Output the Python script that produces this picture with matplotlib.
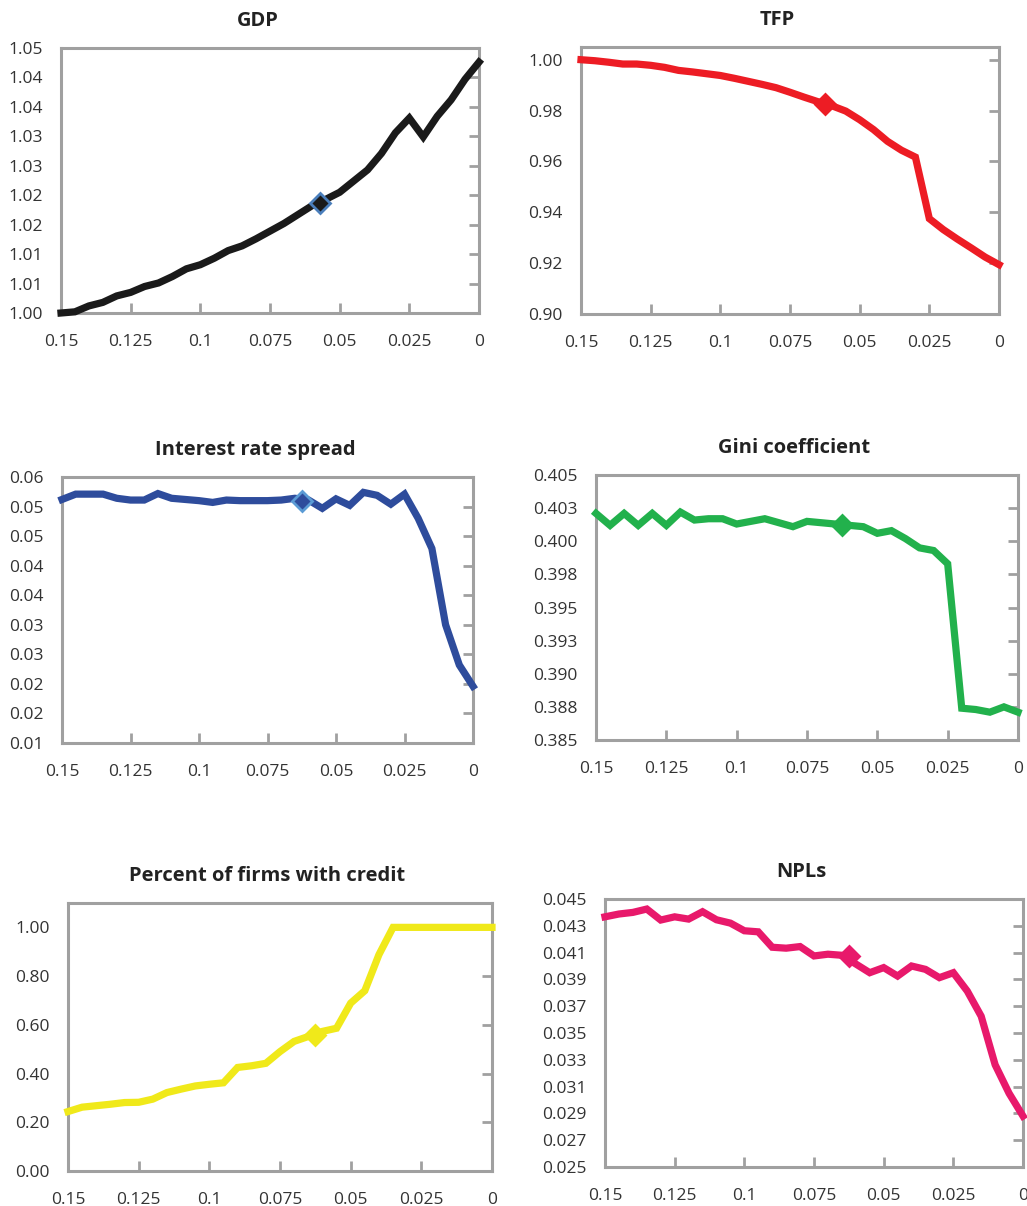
import numpy as np
import matplotlib
matplotlib.use("Agg")
import matplotlib.pyplot as plt

plt.rcParams["font.family"] = ["Open Sans", "DejaVu Sans"]

# shared x grid: 0.15 down to 0 in steps of 0.005
x = np.round(np.linspace(0.15, 0.0, 31), 4)

gdp = [1.0000, 1.0002, 1.0012, 1.0018, 1.0029, 1.0035, 1.0045, 1.0051, 1.0062, 1.0075,
       1.0082, 1.0093, 1.0106, 1.0114, 1.0126, 1.0139, 1.0152, 1.0167, 1.0182, 1.0193,
       1.0205, 1.0224, 1.0243, 1.0271, 1.0306, 1.0331, 1.0299, 1.0334, 1.0362, 1.0397,
       1.0426]
tfp = [1.0000, 0.9996, 0.9990, 0.9983, 0.9983, 0.9978, 0.9970, 0.9958, 0.9952, 0.9945,
       0.9938, 0.9927, 0.9915, 0.9903, 0.9890, 0.9872, 0.9853, 0.9835, 0.9819, 0.9798,
       0.9764, 0.9725, 0.9679, 0.9644, 0.9617, 0.9375, 0.9332, 0.9295, 0.9260, 0.9224,
       0.9194]
spread = [0.0512, 0.0521, 0.0521, 0.0521, 0.0514, 0.0511, 0.0511, 0.0522, 0.0514, 0.0512,
          0.0510, 0.0507, 0.0511, 0.0510, 0.0510, 0.0510, 0.0511, 0.0514, 0.0511, 0.0497,
          0.0513, 0.0502, 0.0524, 0.0519, 0.0504, 0.0521, 0.0480, 0.0429, 0.0300, 0.0232,
          0.0196]
gini = [0.4021, 0.4012, 0.4021, 0.4012, 0.4021, 0.4012, 0.4022, 0.4016, 0.4017, 0.4017,
        0.4013, 0.4015, 0.4017, 0.4014, 0.4011, 0.4015, 0.4014, 0.4013, 0.4012, 0.4011,
        0.4006, 0.4008, 0.4002, 0.3995, 0.3993, 0.3983, 0.3874, 0.3873, 0.3871, 0.3875,
        0.3871]
credit = [0.244, 0.262, 0.268, 0.274, 0.281, 0.282, 0.295, 0.322, 0.336, 0.349,
          0.356, 0.362, 0.425, 0.432, 0.442, 0.490, 0.532, 0.552, 0.573, 0.586,
          0.689, 0.740, 0.888, 1.000, 1.000, 1.000, 1.000, 1.000, 1.000, 1.000,
          1.000]
npl = [0.04367, 0.04388, 0.04400, 0.04425, 0.04343, 0.04367, 0.04350, 0.04405, 0.04345, 0.04320,
       0.04263, 0.04255, 0.04140, 0.04133, 0.04145, 0.04075, 0.04088, 0.04080, 0.04015, 0.03950,
       0.03988, 0.03925, 0.04000, 0.03975, 0.03913, 0.03950, 0.03813, 0.03625, 0.03263, 0.03050,
       0.02880]

# benchmark markers (x, y)
gdp_mark = (0.057, 1.0187)
tfp_mark = (0.0625, 0.9827)
spread_mark = (0.0625, 0.0510)
gini_mark = (0.0625, 0.4012)
credit_mark = (0.0625, 0.559)
npl_mark = (0.0625, 0.04075)

xticks = [0.15, 0.125, 0.1, 0.075, 0.05, 0.025, 0.0]
xticklabels = ["0.15", "0.125", "0.1", "0.075", "0.05", "0.025", "0"]

gdp_yticks = [1.000, 1.005, 1.010, 1.015, 1.020, 1.025, 1.030, 1.035, 1.040, 1.045]
gdp_ylabels = ["1.00", "1.01", "1.01", "1.02", "1.02", "1.03", "1.03", "1.04", "1.04", "1.05"]
tfp_yticks = [0.90, 0.92, 0.94, 0.96, 0.98, 1.00]
tfp_ylabels = ["0.90", "0.92", "0.94", "0.96", "0.98", "1.00"]
spread_yticks = [0.010, 0.015, 0.020, 0.025, 0.030, 0.035, 0.040, 0.045, 0.050, 0.055]
spread_ylabels = ["0.01", "0.02", "0.02", "0.03", "0.03", "0.04", "0.04", "0.05", "0.05", "0.06"]
gini_yticks = [0.385, 0.3875, 0.390, 0.3925, 0.395, 0.3975, 0.400, 0.4025, 0.405]
gini_ylabels = ["0.385", "0.388", "0.390", "0.393", "0.395", "0.398", "0.400", "0.403", "0.405"]
credit_yticks = [0.0, 0.2, 0.4, 0.6, 0.8, 1.0]
credit_ylabels = ["0.00", "0.20", "0.40", "0.60", "0.80", "1.00"]
npl_yticks = [0.025, 0.027, 0.029, 0.031, 0.033, 0.035, 0.037, 0.039, 0.041, 0.043, 0.045]
npl_ylabels = ["0.025", "0.027", "0.029", "0.031", "0.033", "0.035", "0.037", "0.039",
               "0.041", "0.043", "0.045"]

W, H = 1027, 1206
fig = plt.figure(figsize=(W / 100, H / 100), dpi=100)


def make_ax(l, t, r, b):
    return fig.add_axes([l / W, 1 - b / H, (r - l) / W, (b - t) / H])


panels = [
    # box (left, top, right, bottom) in px, title, data, colour, marker, marker face/edge, ylim, ticks
    ((61, 48, 479, 313), "GDP", gdp, "#1a1a1a", gdp_mark, "#1a1a1a", "#4a7ebb",
     (1.000, 1.045), gdp_yticks, gdp_ylabels),
    ((581, 47, 999, 314), "TFP", tfp, "#ed1c24", tfp_mark, "#ed1c24", "#ed1c24",
     (0.90, 1.005), tfp_yticks, tfp_ylabels),
    ((62, 477, 473, 743), "Interest rate spread", spread, "#2e4c9c", spread_mark, "#2e4c9c", "#5b9bd5",
     (0.010, 0.055), spread_yticks, spread_ylabels),
    ((596, 475, 1018, 740), "Gini coefficient", gini, "#22b14c", gini_mark, "#22b14c", "#22b14c",
     (0.385, 0.405), gini_yticks, gini_ylabels),
    ((68, 903, 492, 1171), "Percent of firms with credit", credit, "#f0e91a", credit_mark, "#f0e91a", "#f0e91a",
     (0.0, 1.1), credit_yticks, credit_ylabels),
    ((605, 899, 1023, 1167), "NPLs", npl, "#e8196b", npl_mark, "#e8196b", "#e8196b",
     (0.025, 0.045), npl_yticks, npl_ylabels),
]

for box, title, y, col, mark, mface, medge, ylim, yt, ytl in panels:
    ax = make_ax(*box)
    ax.plot(x, y, color=col, lw=5.2, solid_joinstyle="miter", clip_on=False, zorder=3)
    ax.plot([mark[0]], [mark[1]], marker="D", ms=10.5, mfc=mface, mec=medge, mew=2,
            linestyle="none", clip_on=False, zorder=4)
    ax.set_xlim(0.15, 0.0)
    ax.set_ylim(*ylim)
    ax.set_xticks(xticks)
    ax.set_xticklabels(xticklabels)
    ax.set_yticks(yt)
    ax.set_yticklabels(ytl)
    for s in ax.spines.values():
        s.set_color("#a0a0a0")
        s.set_linewidth(2.2)
    ax.tick_params(axis="x", direction="in", length=7, width=2, color="#a0a0a0",
                   labelsize=12.5, labelcolor="#333333", pad=15)
    ax.tick_params(axis="y", direction="in", length=7, width=2, color="#a0a0a0",
                   left=False, right=True, labelleft=True, labelright=False,
                   labelsize=12.5, labelcolor="#333333", pad=13)
    ax.set_title(title, fontsize=14.5, fontweight="bold", color="#222222", pad=16, x=0.47)

fig.savefig("out.png", dpi=100)
